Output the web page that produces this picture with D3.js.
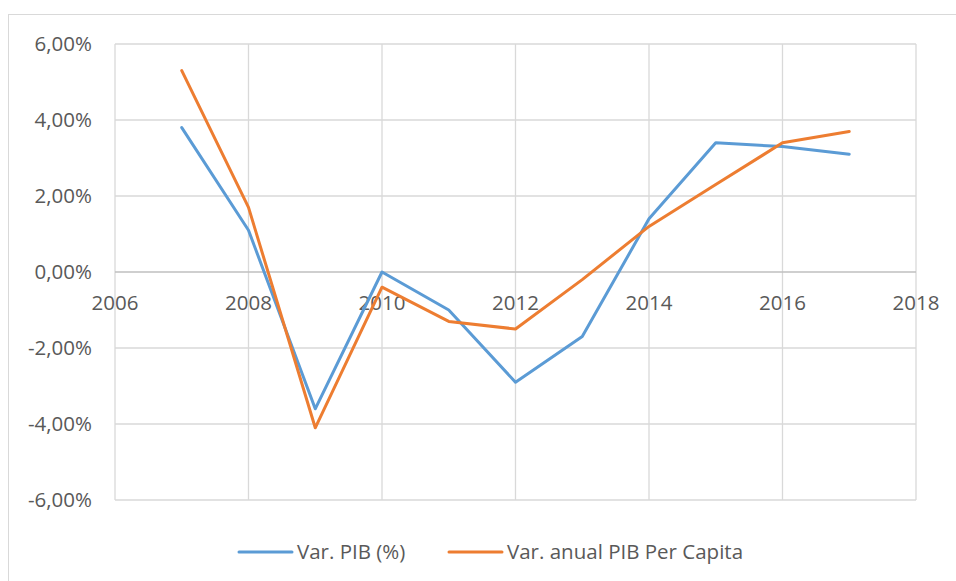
<!DOCTYPE html>
<html><head><meta charset="utf-8">
<script src="https://cdn.jsdelivr.net/npm/d3@7"></script>
<style>body{margin:0;background:#fff}svg{display:block}text{font-family:"Open Sans",sans-serif;fill:#595959}</style>
</head><body><svg id="c" width="956" height="581"></svg>
<script>
const years = [2007,2008,2009,2010,2011,2012,2013,2014,2015,2016,2017];
const pib = [3.8,1.1,-3.6,0.0,-1.0,-2.9,-1.7,1.4,3.4,3.3,3.1];
const pibPerCapita = [5.3,1.7,-4.1,-0.4,-1.3,-1.5,-0.2,1.2,2.3,3.4,3.7];
const xTicks = [2006,2008,2010,2012,2014,2016,2018];
const yTicks = [-6,-4,-2,0,2,4,6];
const seriesNames = ["Var. PIB (%)","Var. anual PIB Per Capita"];
const colors = ["#5B9BD5","#ED7D31"];

const FS = 20.5;
const svg = d3.select("#c");
svg.append("rect").attr("x",8.5).attr("y",14.5).attr("width",960).attr("height",600)
  .attr("fill","#fff").attr("stroke","#d9d9d9");
const x = d3.scaleLinear().domain([2006,2018]).range([115,916]);
const y = d3.scaleLinear().domain([-6,6]).range([500,44]);

// grid
svg.append("g").selectAll("line").data(xTicks).join("line")
  .attr("x1",d=>x(d)).attr("x2",d=>x(d)).attr("y1",y(6)).attr("y2",y(-6))
  .attr("stroke","#d9d9d9").attr("stroke-width",1.3);
svg.append("g").selectAll("line").data(yTicks).join("line")
  .attr("x1",x(2006)).attr("x2",x(2018)).attr("y1",d=>y(d)).attr("y2",d=>y(d))
  .attr("stroke",d=>d===0?"#bfbfbf":"#d9d9d9").attr("stroke-width",1.3);

const fmt = d=> d3.format(".2f")(d).replace(".",",").replace("\u2212","-")+"%";
svg.append("g").selectAll("text").data(yTicks).join("text")
  .attr("x",92).attr("y",d=>y(d)).attr("dy","0.36em").attr("text-anchor","end")
  .attr("font-size",FS).text(fmt);
svg.append("g").selectAll("text").data(xTicks).join("text")
  .attr("x",d=>x(d)).attr("y",y(0)+31).attr("dy","0.36em").attr("text-anchor","middle")
  .attr("font-size",FS).text(d=>d);

const line = d3.line().x((d,i)=>x(years[i])).y(d=>y(d));
[pib,pibPerCapita].forEach((s,k)=>{
  svg.append("path").attr("d",line(s)).attr("fill","none").attr("stroke",colors[k])
    .attr("stroke-width",3).attr("stroke-linejoin","round").attr("stroke-linecap","round");
});

// legend
const leg = [{x1:239,x2:292,tx:297},{x1:449,x2:502,tx:507}];
seriesNames.forEach((n,k)=>{
  svg.append("line").attr("x1",leg[k].x1).attr("x2",leg[k].x2).attr("y1",552).attr("y2",552)
    .attr("stroke",colors[k]).attr("stroke-width",3).attr("stroke-linecap","round");
  svg.append("text").attr("x",leg[k].tx).attr("y",552).attr("dy","0.36em").attr("font-size",FS).text(n);
});
</script></body></html>
